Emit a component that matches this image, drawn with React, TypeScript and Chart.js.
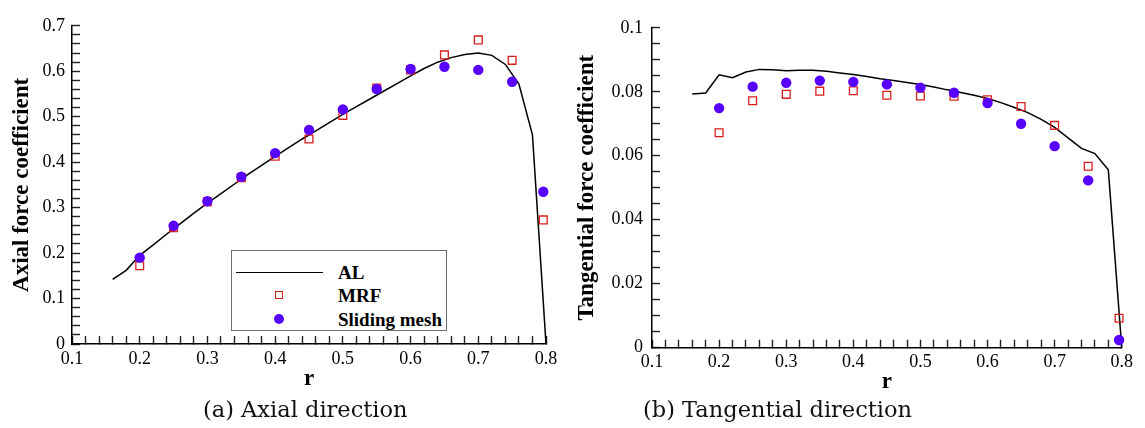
import React, { useEffect, useRef } from "react";
import { Chart, registerables } from "chart.js";

Chart.register(...registerables);

// ---------- data ----------
const R_AL = [
  0.16, 0.18, 0.2, 0.22, 0.24, 0.26, 0.28, 0.3, 0.32, 0.34, 0.36, 0.38, 0.4, 0.42, 0.44, 0.46, 0.48,
  0.5, 0.52, 0.54, 0.56, 0.58, 0.6, 0.62, 0.64, 0.66, 0.68, 0.7, 0.72, 0.74, 0.76, 0.78, 0.8,
];
const AXIAL_AL = [
  0.142, 0.162, 0.195, 0.218, 0.242, 0.265, 0.288, 0.31, 0.331, 0.352, 0.373, 0.393, 0.413, 0.432,
  0.451, 0.469, 0.487, 0.505, 0.522, 0.539, 0.556, 0.573, 0.59, 0.606, 0.62, 0.63, 0.637, 0.64,
  0.635, 0.615, 0.572, 0.46, 0.0,
];
const TANGENTIAL_AL = [
  0.0793, 0.0796, 0.0853, 0.0844, 0.0862, 0.087, 0.0869, 0.0866, 0.0867, 0.0867, 0.0864, 0.0859,
  0.0854, 0.0848, 0.0841, 0.0835, 0.0829, 0.0823, 0.0815, 0.0806, 0.0798, 0.0789, 0.0779, 0.0766,
  0.0751, 0.0735, 0.0714, 0.0689, 0.0656, 0.0623, 0.0607, 0.0556, 0.0,
];
const R_CFD = [0.2, 0.25, 0.3, 0.35, 0.4, 0.45, 0.5, 0.55, 0.6, 0.65, 0.7, 0.75, 0.796];
const AXIAL_MRF = [0.172, 0.256, 0.313, 0.366, 0.413, 0.451, 0.503, 0.563, 0.603, 0.636, 0.669, 0.624, 0.273];
const AXIAL_SLIDING = [0.19, 0.26, 0.314, 0.368, 0.42, 0.471, 0.516, 0.561, 0.605, 0.61, 0.603, 0.577, 0.335];
const TANGENTIAL_MRF = [0.0672, 0.0772, 0.0792, 0.0802, 0.0803, 0.0789, 0.0787, 0.0786, 0.0775, 0.0754, 0.0695, 0.0567, 0.0092];
const TANGENTIAL_SLIDING = [0.0749, 0.0816, 0.0828, 0.0835, 0.0831, 0.0823, 0.0813, 0.0797, 0.0765, 0.07, 0.063, 0.0523, 0.0024];

const SERIES_NAMES = ["AL", "MRF", "Sliding mesh"];
const X_TITLE = "r";
const Y_TITLES = ["Axial force coefficient", "Tangential force coefficient"];
const CAPTIONS = ["(a) Axial direction", "(b) Tangential direction"];

// ---------- styling ----------
const SERIF = "'Liberation Serif', 'Times New Roman', serif";
const CAPTION_FONT = "'DejaVu Serif', serif";
const RED = "#d91e1e";
const BLUE = "#5800ff";

type PanelSpec = {
  left: number;
  width: number;
  yWidth: number;
  xHeight: number;
  padTop: number;
  padRight: number;
  yMax: number;
  yStep: number;
  yMajor: number;
  yTitle: string;
  yTitlePad: number;
  xTitlePad: number;
  yTickPad: number;
  xTickPad: number;
  al: number[];
  mrf: number[];
  sliding: number[];
};

const fmt = (major: number) => (v: number | string) => {
  const n = Number(v);
  const k = n / major;
  if (Math.abs(k - Math.round(k)) > 1e-6) return "";
  return String(parseFloat((Math.round(k) * major).toFixed(4)));
};

const TICK_LEN = -8;

function buildConfig(p: PanelSpec): any {
  const tickFont = { family: SERIF, size: 18 };
  const titleFont = { family: SERIF, size: 23, weight: "bold" as const };
  const grid = {
    display: true,
    drawOnChartArea: false,
    drawTicks: true,
    tickLength: TICK_LEN,
    color: "#000",
    tickColor: "#222",
    tickWidth: 1.4,
  };
  return {
    type: "scatter",
    data: {
      datasets: [
        {
          label: SERIES_NAMES[0],
          data: R_AL.map((x, i) => ({ x, y: p.al[i] })),
          showLine: true,
          pointRadius: 0,
          borderColor: "#000",
          borderWidth: 1.5,
          fill: false,
          tension: 0,
          order: 2,
          clip: false,
        },
        {
          label: SERIES_NAMES[1],
          data: R_CFD.map((x, i) => ({ x, y: p.mrf[i] })),
          pointStyle: "rect",
          pointRadius: 5.5,
          borderColor: RED,
          borderWidth: 1.3,
          backgroundColor: "rgba(255,255,255,0)",
          order: 1,
          clip: false,
        },
        {
          label: SERIES_NAMES[2],
          data: R_CFD.map((x, i) => ({ x, y: p.sliding[i] })),
          pointStyle: "circle",
          pointRadius: 5.2,
          borderWidth: 0,
          backgroundColor: BLUE,
          borderColor: BLUE,
          order: 0,
          clip: false,
        },
      ],
    },
    options: {
      responsive: false,
      animation: false,
      events: [],
      layout: { padding: { left: 0, top: p.padTop, right: p.padRight, bottom: 0 } },
      plugins: { legend: { display: false }, tooltip: { enabled: false } },
      scales: {
        x: {
          type: "linear",
          position: "bottom",
          min: 0.1,
          max: 0.8,
          ticks: {
            stepSize: 0.02,
            autoSkip: false,
            maxRotation: 0,
            padding: p.xTickPad,
            font: tickFont,
            color: "#000",
            callback: fmt(0.1),
          },
          grid,
          border: { display: true, color: "#000", width: 1.5 },
          title: {
            display: true,
            text: X_TITLE,
            font: titleFont,
            color: "#000",
            padding: { top: 0, bottom: p.xTitlePad },
          },
          afterFit: (s: any) => {
            s.height = p.xHeight;
          },
        },
        y: {
          type: "linear",
          position: "left",
          min: 0,
          max: p.yMax,
          ticks: {
            stepSize: p.yStep,
            autoSkip: false,
            padding: p.yTickPad,
            font: tickFont,
            color: "#000",
            callback: fmt(p.yMajor),
          },
          grid,
          border: { display: true, color: "#000", width: 1.5 },
          title: {
            display: true,
            text: p.yTitle,
            font: titleFont,
            color: "#000",
            padding: { top: p.yTitlePad, bottom: 0 },
          },
          afterFit: (s: any) => {
            s.width = p.yWidth;
          },
        },
      },
    },
  };
}

function Panel({ spec }: { spec: PanelSpec }) {
  const ref = useRef<HTMLCanvasElement | null>(null);
  useEffect(() => {
    if (!ref.current) return;
    const chart = new Chart(ref.current, buildConfig(spec));
    return () => chart.destroy();
  }, []);
  return (
    <div style={{ position: "absolute", left: spec.left, top: 0, width: spec.width, height: 428 }}>
      <canvas ref={ref} width={spec.width} height={428} style={{ width: spec.width, height: 428, display: "block" }} />
    </div>
  );
}

const LEFT: PanelSpec = {
  left: 0,
  width: 570,
  yWidth: 72,
  xHeight: 84,
  padTop: 21.7,
  padRight: 24,
  yMax: 0.7,
  yStep: 0.02,
  yMajor: 0.1,
  yTitle: Y_TITLES[0],
  yTitlePad: 8,
  xTitlePad: 35.5,
  yTickPad: 15,
  xTickPad: 12,
  al: AXIAL_AL,
  mrf: AXIAL_MRF,
  sliding: AXIAL_SLIDING,
};

const RIGHT: PanelSpec = {
  left: 570,
  width: 575,
  yWidth: 82,
  xHeight: 80.3,
  padTop: 21.7,
  padRight: 20,
  yMax: 0.1,
  yStep: 0.005,
  yMajor: 0.02,
  yTitle: Y_TITLES[1],
  yTitlePad: 3,
  xTitlePad: 32.5,
  yTickPad: 17,
  xTickPad: 12,
  al: TANGENTIAL_AL,
  mrf: TANGENTIAL_MRF,
  sliding: TANGENTIAL_SLIDING,
};

function Legend() {
  const textStyle: React.CSSProperties = {
    position: "absolute",
    left: 106,
    fontFamily: SERIF,
    fontWeight: "bold",
    fontSize: 19,
    lineHeight: "19px",
    color: "#000",
    whiteSpace: "nowrap",
  };
  return (
    <div
      style={{
        position: "absolute",
        left: 231,
        top: 250,
        width: 216,
        height: 81,
        border: "1px solid #6e6e6e",
        background: "#fff",
        boxSizing: "border-box",
      }}
    >
      <div style={{ position: "absolute", left: 4, top: 21, width: 87, height: 0, borderTop: "1.5px solid #000" }} />
      <div
        style={{
          position: "absolute",
          left: 43,
          top: 40,
          width: 8,
          height: 8,
          border: `1.3px solid ${RED}`,
          boxSizing: "border-box",
        }}
      />
      <div style={{ position: "absolute", left: 42, top: 63, width: 10, height: 10, borderRadius: "50%", background: BLUE }} />
      <div style={{ ...textStyle, top: 12 }}>{SERIES_NAMES[0]}</div>
      <div style={{ ...textStyle, top: 35 }}>{SERIES_NAMES[1]}</div>
      <div style={{ ...textStyle, top: 59 }}>{SERIES_NAMES[2]}</div>
    </div>
  );
}

export default function App() {
  const capStyle: React.CSSProperties = {
    position: "absolute",
    top: 398,
    fontFamily: CAPTION_FONT,
    fontSize: 22.5,
    lineHeight: "22.5px",
    color: "#111",
    whiteSpace: "nowrap",
  };
  return (
    <div
      style={{
        position: "absolute",
        left: 0,
        top: 0,
        width: 1145,
        height: 428,
        background: "#fff",
        overflow: "hidden",
      }}
    >
      <Panel spec={LEFT} />
      <Panel spec={RIGHT} />
      <Legend />
      <div style={{ ...capStyle, left: 203 }}>{CAPTIONS[0]}</div>
      <div style={{ ...capStyle, left: 643 }}>{CAPTIONS[1]}</div>
    </div>
  );
}
